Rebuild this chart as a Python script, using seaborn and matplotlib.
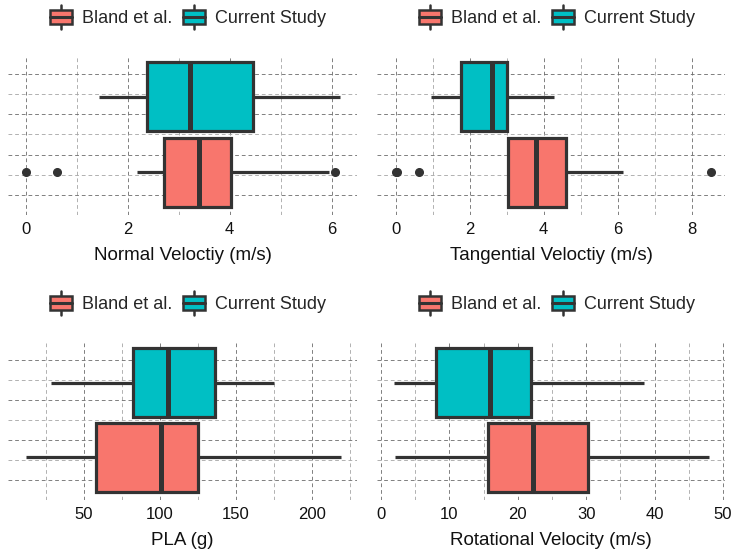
import numpy as np
import pandas as pd
import matplotlib.pyplot as plt
import seaborn as sns
from matplotlib.patches import Patch, Rectangle
from matplotlib.lines import Line2D
from matplotlib.legend_handler import HandlerBase

# -----------------------------
# Data
# box stats: [whisker low, Q1, median, Q3, whisker high]
# -----------------------------

groups = ["Current Study", "Bland et al."]
legend_order = ["Bland et al.", "Current Study"]
colors = {"Bland et al.": "#F8766D", "Current Study": "#00BFC4"}

normal_current = [1.44, 2.37, 3.22, 4.46, 6.17]
normal_current_out = []
normal_bland = [2.18, 2.72, 3.39, 4.03, 5.95]
normal_bland_out = [0.0, 0.62, 6.07]

tangential_current = [0.96, 1.78, 2.60, 3.02, 4.27]
tangential_current_out = []
tangential_bland = [3.05, 3.05, 3.79, 4.60, 6.15]
tangential_bland_out = [0.0, 0.03, 0.63, 8.53]

pla_current = [28.5, 82.2, 104.9, 136.4, 175.0]
pla_current_out = []
pla_bland = [11.6, 57.7, 100.5, 125.0, 218.7]
pla_bland_out = []

rot_current = [1.9, 8.05, 15.9, 21.96, 38.4]
rot_current_out = []
rot_bland = [2.1, 15.7, 22.2, 30.2, 48.0]
rot_bland_out = []

x_labels = ["Normal Veloctiy (m/s)", "Tangential Veloctiy (m/s)",
            "PLA (g)", "Rotational Velocity (m/s)"]
major_ticks = [[0, 2, 4, 6], [0, 2, 4, 6, 8], [50, 100, 150, 200],
               [0, 10, 20, 30, 40, 50]]
minor_ticks = [[1, 3, 5], [1, 3, 5, 7], [25, 75, 125, 175, 225],
               [5, 15, 25, 35, 45]]
x_limits = [(-0.35, 6.5), (-0.5, 8.9), (0, 229.5), (-0.6, 50.3)]


def sample_from_stats(stats, outliers):
    lo, q1, med, q3, hi = stats
    low = sorted(v for v in outliers if v < q1)
    high = sorted(v for v in outliers if v > q3)
    k = max(len(low), len(high)) + 1
    vals = (low + [lo] + [q1] * (2 * k - 1 - len(low)) + [med]
            + [q3] * (2 * k - 1 - len(high)) + [hi] + high)
    return vals


def panel_frame(current, current_out, bland, bland_out):
    rows = []
    for v in sample_from_stats(current, current_out):
        rows.append({"value": v, "group": "Current Study"})
    for v in sample_from_stats(bland, bland_out):
        rows.append({"value": v, "group": "Bland et al."})
    return pd.DataFrame(rows)


frames = [
    panel_frame(normal_current, normal_current_out, normal_bland, normal_bland_out),
    panel_frame(tangential_current, tangential_current_out, tangential_bland, tangential_bland_out),
    panel_frame(pla_current, pla_current_out, pla_bland, pla_bland_out),
    panel_frame(rot_current, rot_current_out, rot_bland, rot_bland_out),
]

LINE = "#333333"


class BoxKey(HandlerBase):
    def create_artists(self, legend, orig_handle, xdescent, ydescent,
                       width, height, fontsize, trans):
        x0, y0 = -xdescent, -ydescent
        yc = y0 + height / 2
        bh = fontsize * 0.8
        wh = fontsize * 1.3
        whisk = Line2D([x0 + width / 2] * 2, [yc - wh / 2, yc + wh / 2],
                       color=LINE, lw=1.8, transform=trans)
        box = Rectangle((x0, yc - bh / 2), width, bh,
                        facecolor=orig_handle.get_facecolor(),
                        edgecolor=LINE, lw=1.8, transform=trans)
        med = Line2D([x0, x0 + width], [yc, yc], color=LINE, lw=2.2,
                     transform=trans)
        return [whisk, box, med]


sns.set_style("white")
plt.rcParams["font.family"] = ["Liberation Sans", "DejaVu Sans"]

fig = plt.figure(figsize=(7.38, 5.55), dpi=100)
W, H = 738.0, 555.0
rects = [(8, 57, 349, 158), (377, 57, 348, 158),
         (8, 343, 349, 157), (377, 343, 348, 157)]

for i, (L, T, w, h) in enumerate(rects):
    ax = fig.add_axes([L / W, 1 - (T + h) / H, w / W, h / H])

    sns.boxplot(
        data=frames[i], x="value", y="group", hue="group",
        order=groups, hue_order=legend_order, palette=colors,
        dodge=False, legend=False, width=0.92, saturation=1,
        linecolor=LINE, linewidth=2.3, showcaps=False,
        medianprops=dict(linewidth=3.6),
        flierprops=dict(marker="o", markerfacecolor=LINE,
                        markeredgecolor=LINE, markersize=5.5),
        ax=ax,
    )

    ax.set_xlim(*x_limits[i])
    ax.set_ylim(1.57, -0.53)
    ax.set_xticks(major_ticks[i])
    ax.set_xticks(minor_ticks[i], minor=True)
    ax.set_yticks([-0.3, 0.2333, 0.7667, 1.3])
    ax.set_yticks([-0.0333, 0.5, 1.0333], minor=True)
    ax.set_yticklabels([])
    ax.set_ylabel("")
    ax.set_xlabel(x_labels[i], fontsize=13.5, color="#111111", labelpad=7)

    ax.set_axisbelow(True)
    ax.grid(True, which="major", color="#6a6a6a", linestyle=(0, (4.5, 3.5)),
            linewidth=0.6)
    ax.grid(True, which="minor", color="#a5a5a5", linestyle=(0, (4.5, 3.5)),
            linewidth=0.6)
    ax.tick_params(which="both", length=0, pad=5, labelsize=12,
                   labelcolor="#111111")
    for s in ax.spines.values():
        s.set_visible(False)

    handles = [Patch(facecolor=colors[g], label=g) for g in legend_order]
    ax.legend(handles=handles, handler_map={Patch: BoxKey()},
              loc="center", bbox_to_anchor=(0.516, 1.243), ncol=2,
              frameon=False, fontsize=13, handlelength=1.22,
              handletextpad=0.55, columnspacing=0.6, borderaxespad=0)

fig.savefig("out.png", dpi=100)
